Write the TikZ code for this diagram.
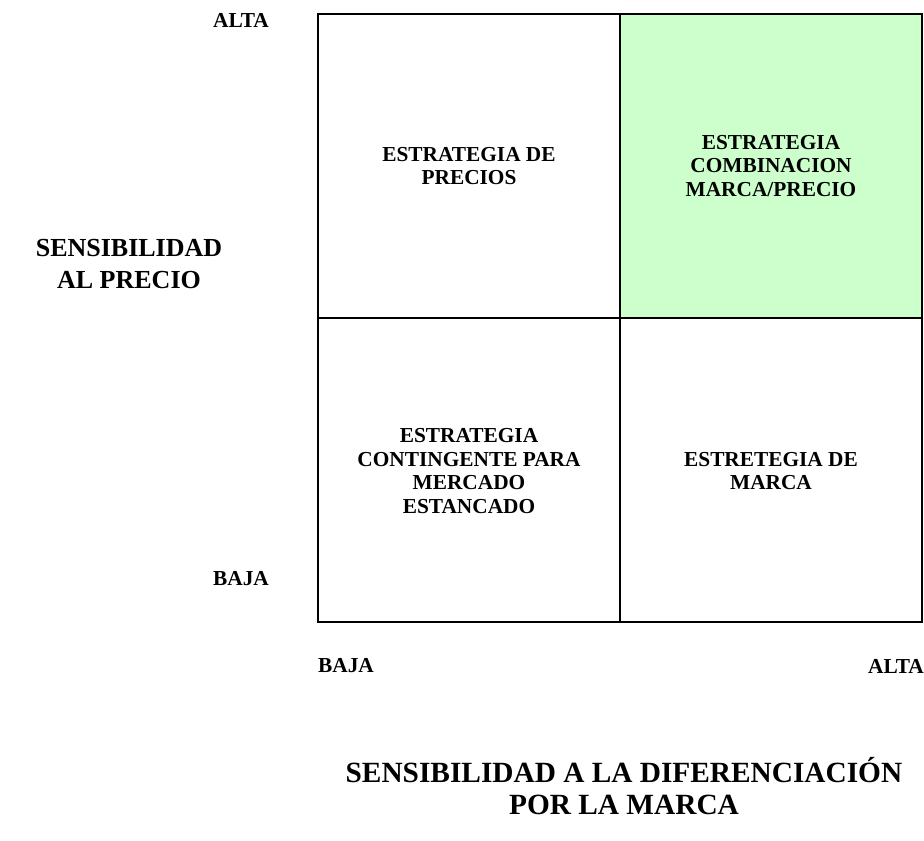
\documentclass[tikz,border=0pt]{standalone}
\usepackage{fontspec}
\setmainfont{Liberation Serif}
\usepackage{xcolor}
\definecolor{celda}{HTML}{CCFFCC}
\begin{document}
\begin{tikzpicture}[x=0.75pt,y=-0.75pt]
\tikzstyle{every node}+=[inner sep=0pt, align=center, font=\bfseries\fontsize{16}{17.6}\selectfont]
\tikzstyle{ejey}=[font=\bfseries\fontsize{19.5}{24}\selectfont]
\tikzstyle{ejex}=[font=\bfseries\fontsize{22}{23.5}\selectfont]
\useasboundingbox (0,0) rectangle (924,840);
\fill [celda] (620,14) rectangle (922,318);
\draw [black, line width=2.2pt] (318,14) rectangle (922,622);
\draw [black, line width=2.2pt] (620,14) -- (620,622);
\draw [black, line width=2.2pt] (318,318) -- (922,318);
\node (q1) at (469,166) {ESTRATEGIA DE\\PRECIOS};
\node (q2) at (771,166) {ESTRATEGIA\\COMBINACION\\MARCA/PRECIO};
\node (q3) at (469,471) {ESTRATEGIA\\CONTINGENTE PARA\\MERCADO\\ESTANCADO};
\node (q4) at (771,471) {ESTRETEGIA DE\\MARCA};
\node (yalta) at (241,20) {ALTA};
\node (ybaja) at (241,579) {BAJA};
\node (xbaja) at (346,666) {BAJA};
\node (xalta) at (896,666) {ALTA};
\node [ejey] (yeje) at (129,264) {SENSIBILIDAD\\AL PRECIO};
\node [ejex] (xeje) at (624,786) {SENSIBILIDAD A LA DIFERENCIACIÓN\\POR LA MARCA};
\end{tikzpicture}
\end{document}
